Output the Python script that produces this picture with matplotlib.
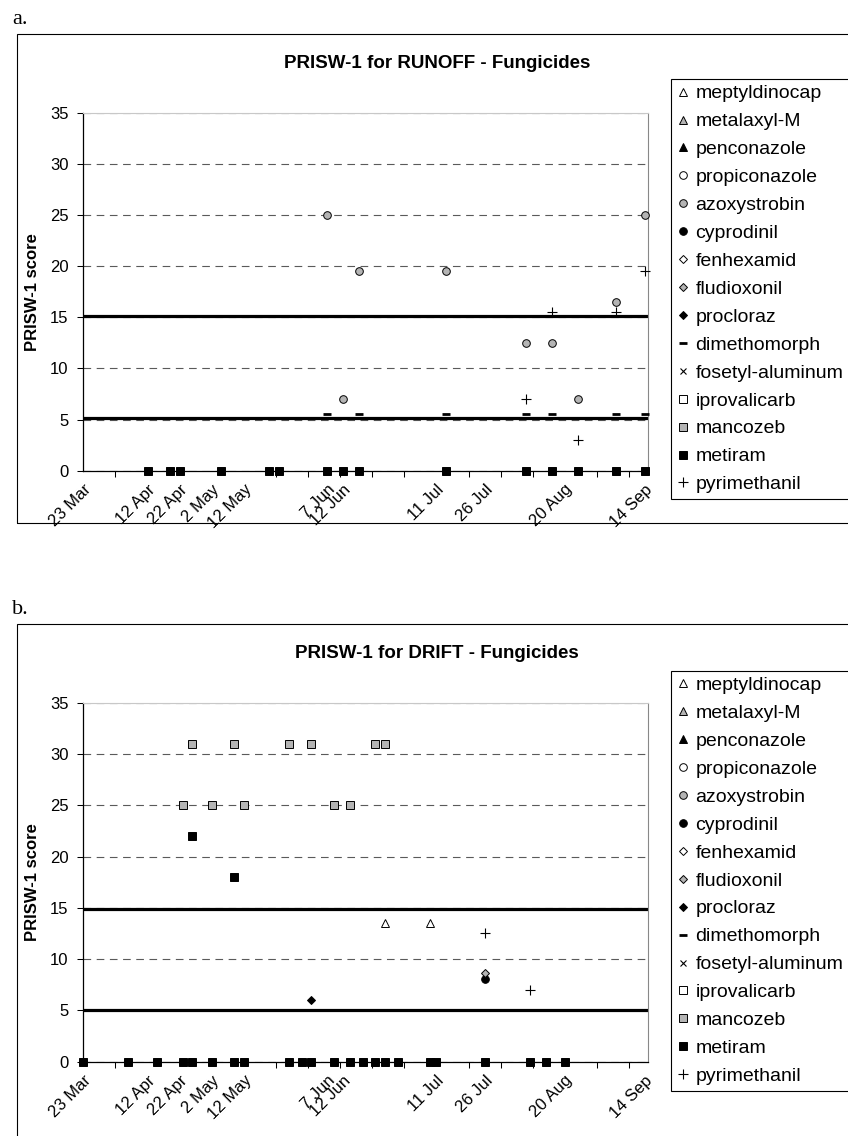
import matplotlib
matplotlib.use('Agg')
import matplotlib.pyplot as plt
import pandas as pd
from matplotlib.lines import Line2D
from matplotlib.patches import Rectangle

plt.rcParams['font.family'] = ['Liberation Sans', 'DejaVu Sans']
plt.rcParams['lines.scale_dashes'] = False

W, H = 848, 1136
YEAR = '2009'

# --- legend entries (same for both panels) ---
compounds = ['meptyldinocap', 'metalaxyl-M', 'penconazole', 'propiconazole',
             'azoxystrobin', 'cyprodinil', 'fenhexamid', 'fludioxonil',
             'procloraz', 'dimethomorph', 'fosetyl-aluminum', 'iprovalicarb',
             'mancozeb', 'metiram', 'pyrimethanil']

# x axis labels (Excel style: labels on selected dates)
label_dates = ['03-23', '04-12', '04-22', '05-02', '05-12', '06-07', '06-12',
               '07-11', '07-26', '08-20', '09-14']
label_texts = ['23 Mar', '12 Apr', '22 Apr', '2 May', '12 May', '7 Jun', '12 Jun',
               '11 Jul', '26 Jul', '20 Aug', '14 Sep']
axis_start = '03-23'
axis_end = '09-15'

# --- a. RUNOFF ---
runoff_azoxystrobin_dates = ['06-07', '06-12', '06-17', '07-14', '08-08', '08-16',
                             '08-24', '09-05', '09-14']
runoff_azoxystrobin = [25, 7, 19.5, 19.5, 12.5, 12.5, 7, 16.5, 25]
runoff_dimethomorph_dates = ['06-07', '06-17', '07-14', '08-08', '08-16', '09-05', '09-14']
runoff_dimethomorph = [5.5, 5.5, 5.5, 5.5, 5.5, 5.5, 5.5]
runoff_metiram_dates = ['04-12', '04-19', '04-22', '05-05', '05-20', '05-23', '06-07',
                        '06-12', '06-17', '07-14', '08-08', '08-16', '08-24', '09-05',
                        '09-14']
runoff_metiram = [0, 0, 0, 0, 0, 0, 0, 0, 0, 0, 0, 0, 0, 0, 0]
runoff_pyrimethanil_dates = ['08-08', '08-16', '08-24', '09-05', '09-14']
runoff_pyrimethanil = [7, 15.5, 3, 15.5, 19.5]
runoff_limits = [5.15, 15.15]

# --- b. DRIFT ---
drift_meptyldinocap_dates = ['06-25', '07-09']
drift_meptyldinocap = [13.5, 13.5]
drift_cyprodinil_dates = ['07-26']
drift_cyprodinil = [8.1]
drift_fludioxonil_dates = ['07-26']
drift_fludioxonil = [8.6]
drift_procloraz_dates = ['06-02']
drift_procloraz = [6]
drift_mancozeb_dates = ['04-23', '04-26', '05-02', '05-09', '05-12', '05-26', '06-02',
                        '06-09', '06-14', '06-22', '06-25']
drift_mancozeb = [25, 31, 25, 31, 25, 31, 31, 25, 25, 31, 31]
drift_metiram_dates = ['03-23', '04-06', '04-15', '04-23', '04-26', '05-02', '05-09',
                       '05-12', '05-26', '05-30', '06-02', '06-09', '06-14', '06-18',
                       '06-22', '06-25', '06-29', '07-09', '07-11', '07-26', '08-09',
                       '08-14', '08-20', '04-26', '05-09']
drift_metiram = [0, 0, 0, 0, 0, 0, 0, 0, 0, 0, 0, 0, 0, 0, 0, 0, 0, 0, 0, 0, 0, 0, 0,
                 22, 18]
drift_pyrimethanil_dates = ['07-26', '08-09']
drift_pyrimethanil = [12.5, 7]
drift_limits = [5.0, 14.9]

GRAY = '#b4b4b4'
# marker, face colour, size, edge width
styles = {
    'meptyldinocap': ('^', 'white', 5.5, 0.7),
    'metalaxyl-M': ('^', GRAY, 5.5, 0.7),
    'penconazole': ('^', 'black', 5.5, 0.7),
    'propiconazole': ('o', 'white', 5.5, 0.7),
    'azoxystrobin': ('o', GRAY, 5.5, 0.7),
    'cyprodinil': ('o', 'black', 5.5, 0.7),
    'fenhexamid': ('D', 'white', 4.4, 0.7),
    'fludioxonil': ('D', GRAY, 4.4, 0.7),
    'procloraz': ('D', 'black', 4.4, 0.7),
    'dimethomorph': ('_', 'black', 6, 2.0),
    'fosetyl-aluminum': ('x', 'black', 5, 0.8),
    'iprovalicarb': ('s', 'white', 5.2, 0.7),
    'mancozeb': ('s', GRAY, 5.2, 0.7),
    'metiram': ('s', 'black', 5.2, 0.7),
    'pyrimethanil': ('+', 'black', 6.5, 0.8),
}


def to_dates(mmdd):
    return pd.to_datetime([YEAR + '-' + d for d in mmdd])


def draw_panel(ax, series, limits):
    ax.set_xlim(to_dates([axis_start])[0], to_dates([axis_end])[0])
    ax.set_ylim(0, 35)
    ax.set_yticks(range(0, 36, 5))
    ax.grid(axis='y', color='#5a5a5a', linewidth=0.8, linestyle=(0, (5.5, 4)))
    ax.set_axisbelow(True)

    for y in limits:
        ax.axhline(y, color='black', linewidth=2.3, zorder=2)

    for name in compounds:
        if name not in series:
            continue
        dates, vals = series[name]
        m, fc, ms, mew = styles[name]
        ax.plot(to_dates(dates), vals, linestyle='none', marker=m, markersize=ms,
                markerfacecolor=fc, markeredgecolor='black', markeredgewidth=mew,
                color='black', clip_on=False, zorder=3)

    # ticks
    ax.set_xticks(to_dates(label_dates))
    ax.set_xticklabels(label_texts, rotation=45, ha='right', va='top',
                       rotation_mode='anchor')
    ax.set_xticks(pd.date_range(YEAR + '-' + axis_start, YEAR + '-' + axis_end,
                                freq='10D'), minor=True)
    ax.tick_params(axis='x', which='major', length=0, pad=8, labelsize=12)
    ax.tick_params(axis='x', which='minor', length=4.5, width=0.75, direction='out')
    ax.tick_params(axis='y', length=4.5, width=0.75, direction='out', pad=6,
                   labelsize=12)

    for s in ['left', 'bottom']:
        ax.spines[s].set_color('black')
        ax.spines[s].set_linewidth(0.9)
    ax.spines['right'].set_color('#888888')
    ax.spines['right'].set_linewidth(0.8)
    ax.spines['top'].set_color('#c8c8c8')
    ax.spines['top'].set_linewidth(0.8)

    ax.set_ylabel('PRISW-1 score', fontsize=12, fontweight='bold', labelpad=7)


def add_legend(fig, top_px):
    handles = []
    for name in compounds:
        m, fc, ms, mew = styles[name]
        handles.append(Line2D([], [], linestyle='none', marker=m,
                              markersize=ms, markerfacecolor=fc,
                              markeredgecolor='black', markeredgewidth=mew,
                              color='black'))
    leg = fig.legend(handles, compounds, loc='upper left',
                     bbox_to_anchor=(671 / W, 1 - top_px / H),
                     bbox_transform=fig.transFigure, borderaxespad=0,
                     fontsize=14, frameon=True, fancybox=False, framealpha=1,
                     edgecolor='black', handlelength=0.6, handletextpad=0.35,
                     borderpad=0.3, labelspacing=0.53)
    leg.get_frame().set_linewidth(0.8)


fig = plt.figure(figsize=(W / 100, H / 100), dpi=100)

# panel a
ax_a = fig.add_axes([83.3 / W, 1 - 470.7 / H, 565 / W, 358 / H])
draw_panel(ax_a, {
    'azoxystrobin': (runoff_azoxystrobin_dates, runoff_azoxystrobin),
    'dimethomorph': (runoff_dimethomorph_dates, runoff_dimethomorph),
    'metiram': (runoff_metiram_dates, runoff_metiram),
    'pyrimethanil': (runoff_pyrimethanil_dates, runoff_pyrimethanil),
}, runoff_limits)
add_legend(fig, 79)

# panel b
ax_b = fig.add_axes([83.3 / W, 1 - 1061.7 / H, 565 / W, 359 / H])
draw_panel(ax_b, {
    'meptyldinocap': (drift_meptyldinocap_dates, drift_meptyldinocap),
    'cyprodinil': (drift_cyprodinil_dates, drift_cyprodinil),
    'fludioxonil': (drift_fludioxonil_dates, drift_fludioxonil),
    'procloraz': (drift_procloraz_dates, drift_procloraz),
    'mancozeb': (drift_mancozeb_dates, drift_mancozeb),
    'metiram': (drift_metiram_dates, drift_metiram),
    'pyrimethanil': (drift_pyrimethanil_dates, drift_pyrimethanil),
}, drift_limits)
add_legend(fig, 670.7)

# titles and panel letters
fig.text(437 / W, 1 - 63 / H, 'PRISW-1 for RUNOFF - Fungicides', ha='center',
         va='center', fontsize=13.5, fontweight='bold')
fig.text(437 / W, 1 - 653 / H, 'PRISW-1 for DRIFT - Fungicides', ha='center',
         va='center', fontsize=13.5, fontweight='bold')
fig.text(12 / W, 1 - 23.5 / H, 'a.', fontsize=16, family='Liberation Serif',
         va='baseline')
fig.text(12 / W, 1 - 613.5 / H, 'b.', fontsize=16, family='Liberation Serif',
         va='baseline')

# chart-area frames (cropped on the right like the original)
fig.add_artist(Rectangle((16.7 / W, 1 - 523 / H), 900 / W, (523 - 34.3) / H,
                         transform=fig.transFigure, fill=False, lw=0.8,
                         ec='black', zorder=0))
fig.add_artist(Rectangle((16.7 / W, 1 - 1160 / H), 900 / W, (1160 - 624.3) / H,
                         transform=fig.transFigure, fill=False, lw=0.8,
                         ec='black', zorder=0))

fig.savefig('out.png', dpi=100)
